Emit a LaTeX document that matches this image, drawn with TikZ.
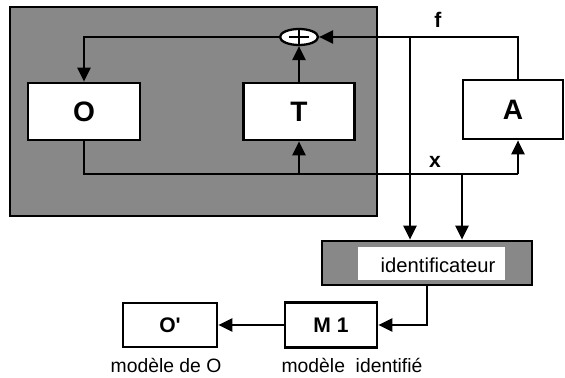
\documentclass[tikz,border=0pt]{standalone}
\usepackage{fontspec}
\setmainfont{Liberation Sans}
\usepackage{tikz}
\usetikzlibrary{arrows.meta,shapes.geometric}
\definecolor{figShade}{RGB}{136,136,136}

\begin{document}
\begin{tikzpicture}[
  x=0.02cm,
  y=-0.02cm,
  >=Latex,
  font=\fontsize{11}{13}\selectfont,
  frame/.style={draw=black, fill=figShade, line width=1.6pt, minimum width=7.34cm, minimum height=4.18cm, inner sep=0pt},
  block/.style={draw=black, fill=white, line width=1.6pt, inner sep=0pt},
  sum/.style={ellipse, draw=black, fill=white, line width=1.3pt, minimum width=0.76cm, minimum height=0.32cm, inner sep=0pt},
  big/.style={font=\fontsize{16}{18}\selectfont\bfseries},
  mid/.style={font=\fontsize{12}{14}\selectfont\bfseries},
  line/.style={-{Triangle[length=8pt,width=7.5pt]}, draw=black, line width=1.1pt},
  wire/.style={draw=black, line width=1.1pt}
]
\useasboundingbox (0,0) rectangle (565,378);

\node[frame] (loop) at (193.5,111.5) {};
\node[block, big, minimum width=2.24cm, minimum height=1.14cm] (O) at (84,111.5) {O};
\node[block, big, minimum width=2.22cm, minimum height=1.14cm] (T) at (299,111.5) {T};
\node[sum] (sum) at (299,37) {};
\draw[line width=1.6pt] (sum.center) ++(-10,0) -- ++(20,0);
\draw[line width=1.6pt] (sum.north) -- (sum.south);
\node[block, big, minimum width=2.0cm, minimum height=1.18cm] (A) at (513,109.5) {A};

\coordinate (fcorner) at (518,37);
\coordinate (xcorner) at (518,174);
\coordinate (fsplit) at (410,37);
\coordinate (xsplit) at (462,174);

\draw[line] (sum.west) -| (O.north);
\draw[line] (T.north) -- (sum.south);
\draw[line] (fcorner |- A.north) -- (fcorner) -- (sum.east);
\draw[wire] (O.south) |- (xcorner);
\draw[line] (xcorner) -- (xcorner |- A.south);
\draw[line] (T.south |- xcorner) -- (T.south);

\node[mid] (flab) at (438,20) {f};
\node[mid] (xlab) at (435,162) {x};

\node[frame, minimum width=4.2cm, minimum height=0.88cm] (ident) at (427,263) {};
\node[fill=white, minimum width=2.94cm, minimum height=0.66cm, inner sep=0pt] (identin) at (431.5,263.5) {};
\node[font=\fontsize{11.5}{13}\selectfont] (identlab) at (438,265) {identificateur};

\draw[line] (fsplit) -- (fsplit |- ident.north);
\draw[line] (xsplit) -- (xsplit |- ident.north);

\node[block, mid, minimum width=1.84cm, minimum height=0.9cm] (M1) at (331,325) {M 1};
\node[block, mid, minimum width=1.88cm, minimum height=0.88cm] (Oprime) at (170,325) {O\textquotesingle};

\draw[line] (ident.south) |- (M1.east);
\draw[line] (M1.west) -- (Oprime.east);

\node (labO) at (166,365) {modèle de O};
\node (labM) at (352,365) {modèle~ identifié};
\end{tikzpicture}
\end{document}
